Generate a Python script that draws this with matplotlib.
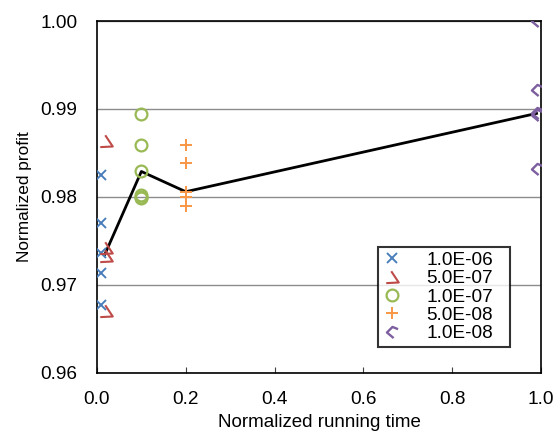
import matplotlib
matplotlib.use("Agg")
import matplotlib.pyplot as plt
from matplotlib.path import Path

plt.rcParams['font.family'] = ['Liberation Sans', 'DejaVu Sans']

# Data
labels = ["1.0E-06", "5.0E-07", "1.0E-07", "5.0E-08", "1.0E-08"]
x_1e6 = [0.01, 0.01, 0.01, 0.01, 0.01]
y_1e6 = [0.9825, 0.9771, 0.9736, 0.9714, 0.9677]
x_5e7 = [0.02, 0.02, 0.02, 0.02]
y_5e7 = [0.9864, 0.9742, 0.9733, 0.9670]
x_1e7 = [0.1, 0.1, 0.1, 0.1, 0.1, 0.1]
y_1e7 = [0.9894, 0.9859, 0.9829, 0.9802, 0.9800, 0.9799]
x_5e8 = [0.2, 0.2, 0.2, 0.2, 0.2]
y_5e8 = [0.9859, 0.9839, 0.9806, 0.9800, 0.9790]
x_1e8 = [0.99, 0.99, 0.99, 0.99, 0.99]
y_1e8 = [1.0000, 0.9922, 0.9896, 0.9893, 0.9832]
line_x = [0.018, 0.1, 0.2, 0.99]
line_y = [0.9735, 0.9829, 0.9806, 0.9895]

colors = ["#4A7EBB", "#BE4B48", "#98B954", "#F79646", "#7D5FA0"]

tri_marker = Path([(-0.1, 0.5), (0.5, -0.4), (-0.5, -0.45)],
                  [Path.MOVETO, Path.LINETO, Path.LINETO])
hook_marker = Path([(0.5, 0.3), (0.0, 0.5), (-0.5, 0.0), (0.1, -0.5)],
                   [Path.MOVETO, Path.LINETO, Path.LINETO, Path.LINETO])

fig = plt.figure(figsize=(5.54, 4.34), dpi=100)
ax = fig.add_axes([0.175, 0.1406, 0.8015, 0.811])

ax.plot(line_x, line_y, color='black', lw=2.0, zorder=2)

ax.plot(x_1e6, y_1e6, ls='none', marker='x', ms=7.5, mew=1.4, color=colors[0], label=labels[0], zorder=3)
ax.plot(x_5e7, y_5e7, ls='none', marker=tri_marker, ms=9, mew=1.5, color=colors[1], mfc='none', label=labels[1], zorder=3)
ax.plot(x_1e7, y_1e7, ls='none', marker='o', ms=8.5, mew=1.6, mfc='none', color=colors[2], label=labels[2], zorder=3)
ax.plot(x_5e8, y_5e8, ls='none', marker='+', ms=9, mew=1.4, color=colors[3], label=labels[3], zorder=3)
ax.plot(x_1e8, y_1e8, ls='none', marker=hook_marker, ms=8, mew=1.7, mfc='none', color=colors[4], label=labels[4], zorder=3)

ax.set_xlim(0, 1.0)
ax.set_ylim(0.96, 1.00)
ax.set_xticks([0.0, 0.2, 0.4, 0.6, 0.8, 1.0])
ax.set_xticklabels(["0.0", "0.2", "0.4", "0.6", "0.8", "1.0"])
ax.set_yticks([0.96, 0.97, 0.98, 0.99, 1.00])
ax.set_yticklabels(["0.96", "0.97", "0.98", "0.99", "1.00"])
ax.tick_params(axis='x', direction='in', length=4, width=0.8, labelsize=13.7, pad=13, color='#404040')
ax.tick_params(axis='y', length=0, labelsize=13.7, pad=14)
ax.yaxis.grid(True, color='#8C8C8C', lw=1.0)
ax.set_axisbelow(True)
for s in ax.spines.values():
    s.set_color('black')
    s.set_linewidth(1.2)

ax.set_xlabel("Normalized running time", fontsize=13.5, labelpad=4)
ax.set_ylabel("Normalized profit", fontsize=12.4, labelpad=6)

leg = ax.legend(loc='lower left', bbox_to_anchor=(0.633, 0.074, 0.297, 0.301), mode='expand',
                fontsize=13.7, frameon=True, fancybox=False, labelspacing=0.05,
                handlelength=1.0, handletextpad=1.3, borderpad=0.25, borderaxespad=0)
leg.get_frame().set_edgecolor('black')
leg.get_frame().set_linewidth(1.5)

fig.savefig("out.png", dpi=100)
